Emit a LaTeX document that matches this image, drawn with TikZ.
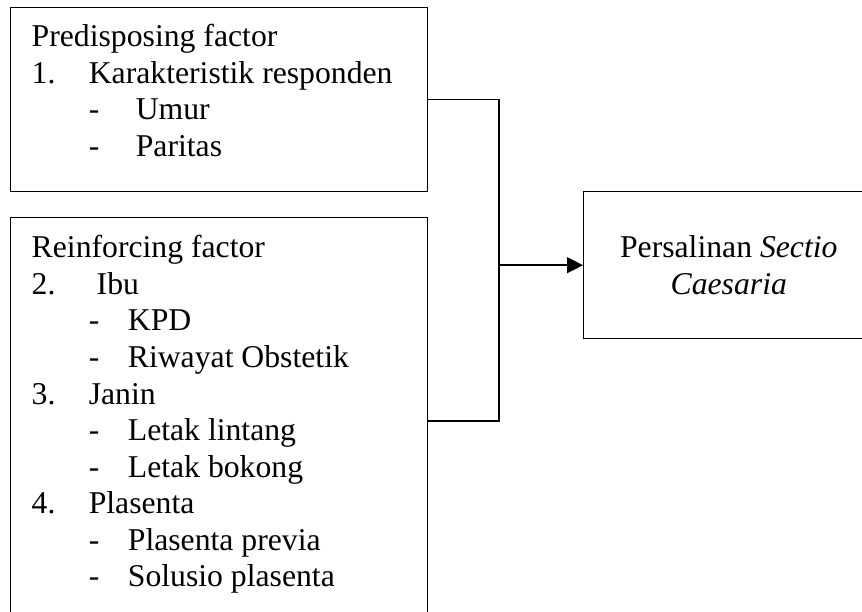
\documentclass[tikz,border=0pt]{standalone}
\usepackage{fontspec}
\setmainfont{Liberation Serif}
\usetikzlibrary{arrows.meta,calc}

\newcommand{\num}[1]{\makebox[21.6pt][l]{#1}}
\newcommand{\dashA}[1]{\hspace*{21.6pt}\makebox[17.8pt][l]{-}#1}
\newcommand{\dashB}[1]{\hspace*{21.6pt}\makebox[14.8pt][l]{-}#1}

\begin{document}
\begin{tikzpicture}[x=0.3785pt,y=-0.3785pt, font=\fontsize{12pt}{13.85pt}\selectfont,
  box/.style={draw, line width=0.55pt, inner sep=0pt, anchor=north west},
  conn/.style={line width=0.55pt}]

\useasboundingbox (0,0) rectangle (862,611);
\clip (0,0) rectangle (862,611);

% factor boxes
\node[box] (pre) at (10,7) {\parbox[t][69.6pt][t]{157.8pt}{\leftskip=7.95pt
  \rule{0pt}{14.76pt}Predisposing factor\\
  \num{1.}Karakteristik responden\\
  \dashA{Umur}\\
  \dashA{Paritas}}};
\node[box] (rein) at (10,217) {\parbox[t][153.7pt][t]{157.8pt}{\leftskip=7.95pt
  \rule{0pt}{15.1pt}Reinforcing factor\\
  \num{2.}\hspace*{3pt}Ibu\\
  \dashB{KPD}\\
  \dashB{Riwayat Obstetik}\\
  \num{3.}Janin\\
  \dashB{Letak lintang}\\
  \dashB{Letak bokong}\\
  \num{4.}Plasenta\\
  \dashB{Plasenta previa}\\
  \dashB{Solusio plasenta}}};

% outcome
\node[box, minimum width=109.8pt, minimum height=55.6pt, align=center] (sc) at (583,191)
  {Persalinan \textit{Sectio}\\\textit{Caesaria}};

\coordinate (j) at ($(sc.west)+(-84,0)$);
\draw[conn] (pre.east) -| (j);
\draw[conn] (rein.east) -| (j);
\draw[conn, -{Triangle[length=6pt,width=6pt]}] (j) -- (sc.west);

\end{tikzpicture}
\end{document}
